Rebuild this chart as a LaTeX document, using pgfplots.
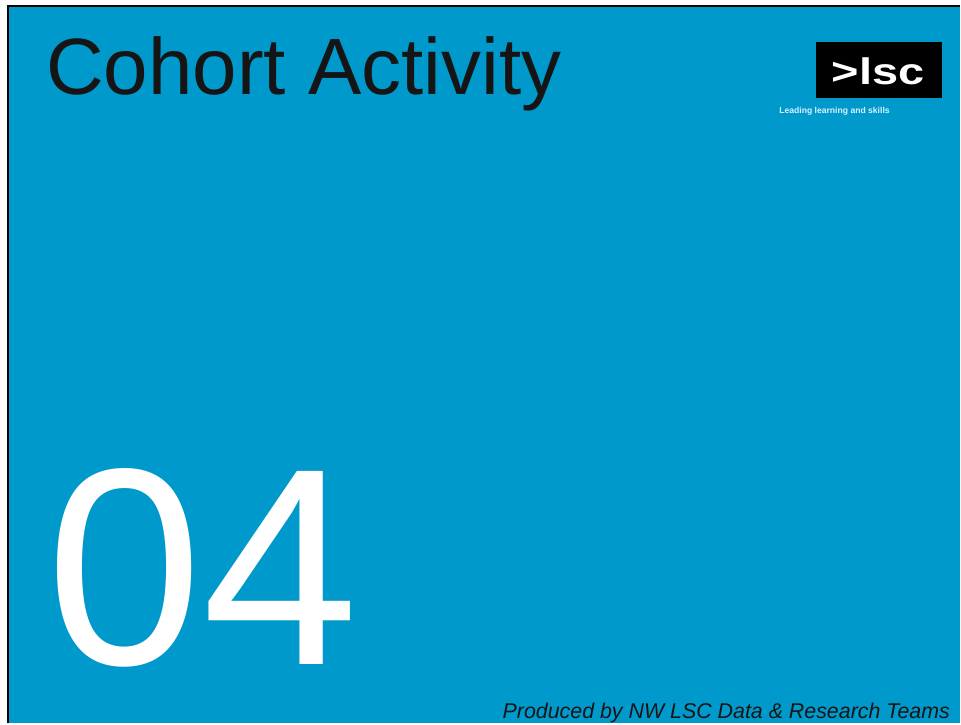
\documentclass[border=0pt]{standalone}
\usepackage{pgfplots}
\pgfplotsset{compat=1.18}
\usepackage{fontspec}
\setmainfont{Liberation Sans}
\definecolor{slideblue}{HTML}{0099CC}
\definecolor{titleblack}{HTML}{151515}
\definecolor{tagline}{HTML}{D8F2FF}
\begin{document}
\begin{tikzpicture}
\fill[white] (0,0) rectangle (961pt,724pt);
\begin{axis}[
  at={(0pt,0pt)}, anchor=south west,
  width=961pt, height=724pt, scale only axis,
  xmin=0, xmax=961, ymin=0, ymax=724, y dir=reverse,
  hide axis, clip=false,
]
% slide background
\addplot[fill=slideblue, draw=none] coordinates {(8.5,6.5) (961,6.5) (961,724) (8.5,724)} -- cycle;
% slide border (left and top edges visible)
\addplot[black, line width=2pt, mark=none] coordinates {(8.5,724) (8.5,6.5) (961,6.5)};
% logo box
\addplot[fill=black, draw=none] coordinates {(817,42) (943,42) (943,98.5) (817,98.5)} -- cycle;
\node[anchor=base west, inner sep=0pt, text=titleblack, font=\fontsize{80}{80}\selectfont] at (axis cs:46,95) {Cohort Activity};
\node[anchor=base west, inner sep=0pt, text=white, font=\fontsize{281}{281}\selectfont] at (axis cs:46,665) {04};
\node[anchor=base, inner sep=0pt, text=white, font=\bfseries\fontsize{37}{37}\selectfont] at (axis cs:879,85) {\scalebox{1.27}[1]{>lsc}};
\node[anchor=base west, inner sep=0pt, text=tagline, font=\bfseries\fontsize{8.6}{9}\selectfont] at (axis cs:780,114) {Leading learning and skills};
\node[anchor=base east, inner sep=0pt, text=titleblack, font=\itshape\fontsize{21.4}{21.4}\selectfont] at (axis cs:951,719) {Produced by NW LSC Data \& Research Teams};
\end{axis}
\end{tikzpicture}
\end{document}
